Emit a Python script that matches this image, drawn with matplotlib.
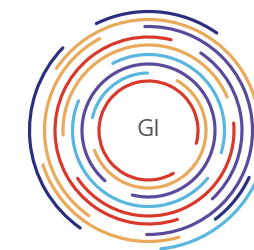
import matplotlib
matplotlib.use('Agg')
import matplotlib.pyplot as plt
from matplotlib.patches import Arc

# ── Datos del logo ──────────────────────────────────────────────────────────
# radios de los anillos (px) y centro
radii = [49.5, 57.5, 66.5, 76, 85.5, 93.5, 104, 111, 119]
center = (148.5, 119.5)

navy = '#2b2f7e'
orange = '#e9a95a'
red = '#d9392b'
lblue = '#5ab6df'
purple = '#5a4a9c'

# (anillo, ángulo inicio, ángulo fin, color)
ring_idx = [0, 1, 1, 2, 3, 3, 4, 4, 5, 5, 6, 6, 7, 7, 7, 8, 8, 8]
theta_start = [-15, 91, 200, 256, 157, 343, 23, 214, 76, -47, 118, -91, 5, 198, -53, 55, 136, -84]
theta_end = [300, 167, 420, 589, 321, 478, 183, 365, 288, 56, 235, 92, 146, 286, -25, 116, 235, -20]
colors = [red, lblue, orange, purple, lblue, lblue, orange, red, red, purple, orange, purple,
          orange, orange, navy, navy, navy, lblue]

label = 'GI'

fig = plt.figure(figsize=(2.55, 2.5), dpi=100)
ax = fig.add_axes([0, 0, 1, 1])
ax.set_xlim(0, 255)
ax.set_ylim(0, 250)
ax.set_aspect('equal')
ax.axis('off')

for k, t1, t2, c in zip(ring_idx, theta_start, theta_end, colors):
    d = 2 * radii[k]
    ax.add_patch(Arc(center, d, d, theta1=t1, theta2=t2, color=c,
                     linewidth=2.3, capstyle='round'))

ax.text(center[0], center[1], label, ha='center', va='center',
        fontsize=17, color='#555555', family='Open Sans')

fig.savefig('out.png', dpi=100)
